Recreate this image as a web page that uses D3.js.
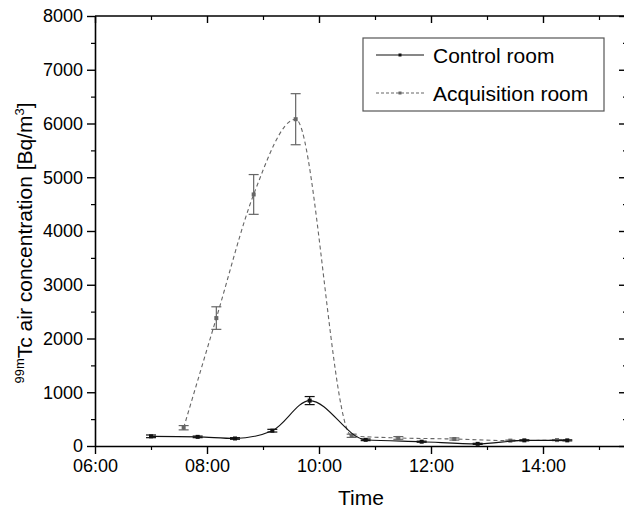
<!DOCTYPE html>
<html>
<head>
<meta charset="utf-8">
<script src="https://cdn.jsdelivr.net/npm/d3@7"></script>
<style>
  html, body { margin: 0; padding: 0; background: #fff; }
  svg { display: block; font-family: "Liberation Sans", Arial, sans-serif; }
</style>
</head>
<body>
<svg id="chart" width="624" height="513"></svg>
<script>
// ---- data ----
const controlTimes  = ["07:00","07:50","08:30","09:10","09:50","10:50","11:50","12:50","13:40","14:26"];
const controlValues = [180, 170, 140, 285, 845, 115, 80, 40, 105, 105];
const controlErrors = [25, 15, 15, 25, 75, 15, 10, 10, 10, 10];

const acqTimes  = ["07:35","08:10","08:50","09:35","10:35","11:25","12:25","13:25","14:15"];
const acqValues = [340, 2380, 4680, 6080, 190, 150, 130, 100, 110];
const acqErrors = [40, 210, 370, 475, 30, 25, 20, 10, 10];

const xTickLabels = ["06:00","08:00","10:00","12:00","14:00"];
const yTickValues = [0,1000,2000,3000,4000,5000,6000,7000,8000];
const seriesNames = ["Control room", "Acquisition room"];

// ---- helpers ----
const FONT = "'Liberation Sans', Arial, sans-serif";
const toHours = s => { const [h, m] = s.split(":").map(Number); return h + m / 60; };
const fmt = h => String(Math.floor(h)).padStart(2, "0") + ":" + String(Math.round((h % 1) * 60)).padStart(2, "0");

const svg = d3.select("#chart");
const L = 95, R = 627, T = 16, B = 446;

const x = d3.scaleLinear().domain([6, 15.5]).range([L, R]);
const y = d3.scaleLinear().domain([0, 8000]).range([B, T]);

const control = controlTimes.map((t, i) => ({ t: toHours(t), v: controlValues[i], e: controlErrors[i] }));
const acq = acqTimes.map((t, i) => ({ t: toHours(t), v: acqValues[i], e: acqErrors[i] }));

const majorX = xTickLabels.map(toHours);
const minorX = [7, 9, 11, 13, 15];
const minorY = d3.range(500, 8000, 1000);

// ---- frame (top and right) ----
svg.append("line").attr("x1", L).attr("x2", R).attr("y1", T).attr("y2", T)
  .attr("stroke", "#000").attr("stroke-width", 1.4);
svg.append("line").attr("x1", R).attr("x2", R).attr("y1", T).attr("y2", B)
  .attr("stroke", "#000").attr("stroke-width", 1.4);
svg.append("g").attr("transform", `translate(0,${T})`)
  .call(d3.axisTop(x).tickValues(majorX).tickSize(-7).tickSizeOuter(0).tickFormat(""))
  .call(g => g.select(".domain").remove())
  .call(g => g.selectAll("line").attr("stroke-width", 1.4));
svg.append("g").attr("transform", `translate(0,${T})`)
  .call(d3.axisTop(x).tickValues(minorX).tickSize(-4).tickSizeOuter(0).tickFormat(""))
  .call(g => g.select(".domain").remove())
  .call(g => g.selectAll("line").attr("stroke-width", 1.2));
svg.append("g").attr("transform", `translate(${R},0)`)
  .call(d3.axisRight(y).tickValues(yTickValues).tickSize(-8).tickSizeOuter(0).tickFormat(""))
  .call(g => g.select(".domain").remove())
  .call(g => g.selectAll("line").attr("stroke-width", 1.4));
svg.append("g").attr("transform", `translate(${R},0)`)
  .call(d3.axisRight(y).tickValues(minorY).tickSize(-4).tickSizeOuter(0).tickFormat(""))
  .call(g => g.select(".domain").remove())
  .call(g => g.selectAll("line").attr("stroke-width", 1.2));

// ---- bottom axis ----
const xAxis = svg.append("g").attr("transform", `translate(0,${B})`)
  .call(d3.axisBottom(x).tickValues(majorX).tickSize(8).tickSizeOuter(0).tickPadding(5).tickFormat(fmt));
xAxis.select(".domain").attr("stroke-width", 1.6);
xAxis.selectAll("line").attr("stroke-width", 1.4);
xAxis.selectAll("text").attr("font-size", 18).attr("fill", "#000").attr("font-family", FONT);
svg.append("g").attr("transform", `translate(0,${B})`)
  .call(d3.axisBottom(x).tickValues(minorX).tickSize(4).tickSizeOuter(0).tickFormat(""))
  .call(g => g.select(".domain").remove())
  .call(g => g.selectAll("line").attr("stroke-width", 1.2));

// ---- left axis ----
const yAxis = svg.append("g").attr("transform", `translate(${L},0)`)
  .call(d3.axisLeft(y).tickValues(yTickValues).tickSize(8).tickSizeOuter(0).tickPadding(4).tickFormat(d3.format("d")));
yAxis.select(".domain").attr("stroke-width", 1.6);
yAxis.selectAll("line").attr("stroke-width", 1.4);
yAxis.selectAll("text").attr("font-size", 18).attr("fill", "#000").attr("font-family", FONT);
svg.append("g").attr("transform", `translate(${L},0)`)
  .call(d3.axisLeft(y).tickValues(minorY).tickSize(4).tickSizeOuter(0).tickFormat(""))
  .call(g => g.select(".domain").remove())
  .call(g => g.selectAll("line").attr("stroke-width", 1.2));

// ---- axis titles ----
svg.append("text").attr("x", 361).attr("y", 505).attr("font-family", FONT)
  .attr("text-anchor", "middle").attr("font-size", 21).attr("fill", "#000").text("Time");

const yt = svg.append("text").attr("font-family", FONT)
  .attr("transform", `translate(32,${(T + B) / 2 + 12}) rotate(-90)`)
  .attr("text-anchor", "middle").attr("font-size", 21).attr("fill", "#000");
yt.append("tspan").attr("font-size", 13).attr("dy", -8).text("99m");
yt.append("tspan").attr("dy", 8).text("Tc air concentration [Bq/m");
yt.append("tspan").attr("font-size", 13).attr("dy", -8).text("3");
yt.append("tspan").attr("dy", 8).text("]");

// ---- series ----
const line = d3.line().x(d => x(d.t)).y(d => y(d.v)).curve(d3.curveMonotoneX);

function drawSeries(data, color, dash, markerSize) {
  const g = svg.append("g");
  g.append("path").datum(data).attr("d", line).attr("fill", "none")
    .attr("stroke", color).attr("stroke-width", 1.1).attr("stroke-dasharray", dash);
  const eb = g.selectAll(".eb").data(data).join("g");
  eb.append("line").attr("x1", d => x(d.t)).attr("x2", d => x(d.t))
    .attr("y1", d => y(d.v - d.e)).attr("y2", d => y(d.v + d.e))
    .attr("stroke", color).attr("stroke-width", 1.2);
  [1, -1].forEach(s => {
    eb.append("line").attr("x1", d => x(d.t) - 5).attr("x2", d => x(d.t) + 5)
      .attr("y1", d => y(d.v + s * d.e)).attr("y2", d => y(d.v + s * d.e))
      .attr("stroke", color).attr("stroke-width", 1.2);
  });
  g.selectAll(".mk").data(data).join("rect")
    .attr("x", d => x(d.t) - markerSize / 2).attr("y", d => y(d.v) - markerSize / 2)
    .attr("width", markerSize).attr("height", markerSize).attr("fill", color);
}
drawSeries(acq, "#666", "4,3", 4);
drawSeries(control, "#111", null, 4);

// ---- legend ----
const lg = svg.append("g");
lg.append("rect").attr("x", 363).attr("y", 38).attr("width", 241).attr("height", 73)
  .attr("fill", "#fff").attr("stroke", "#555").attr("stroke-width", 1.2);
const legendItems = [
  { name: seriesNames[0], color: "#111", dash: null, y: 55 },
  { name: seriesNames[1], color: "#666", dash: "3,2", y: 93 }
];
legendItems.forEach(it => {
  lg.append("line").attr("x1", 376).attr("x2", 424).attr("y1", it.y).attr("y2", it.y)
    .attr("stroke", it.color).attr("stroke-width", 1.1).attr("stroke-dasharray", it.dash);
  lg.append("rect").attr("x", 398.5).attr("y", it.y - 1.5).attr("width", 3).attr("height", 3).attr("fill", it.color);
  lg.append("text").attr("x", 433).attr("y", it.y + 7.5).attr("font-family", FONT)
    .attr("font-size", 21).attr("fill", "#000").text(it.name);
});
</script>
</body>
</html>
